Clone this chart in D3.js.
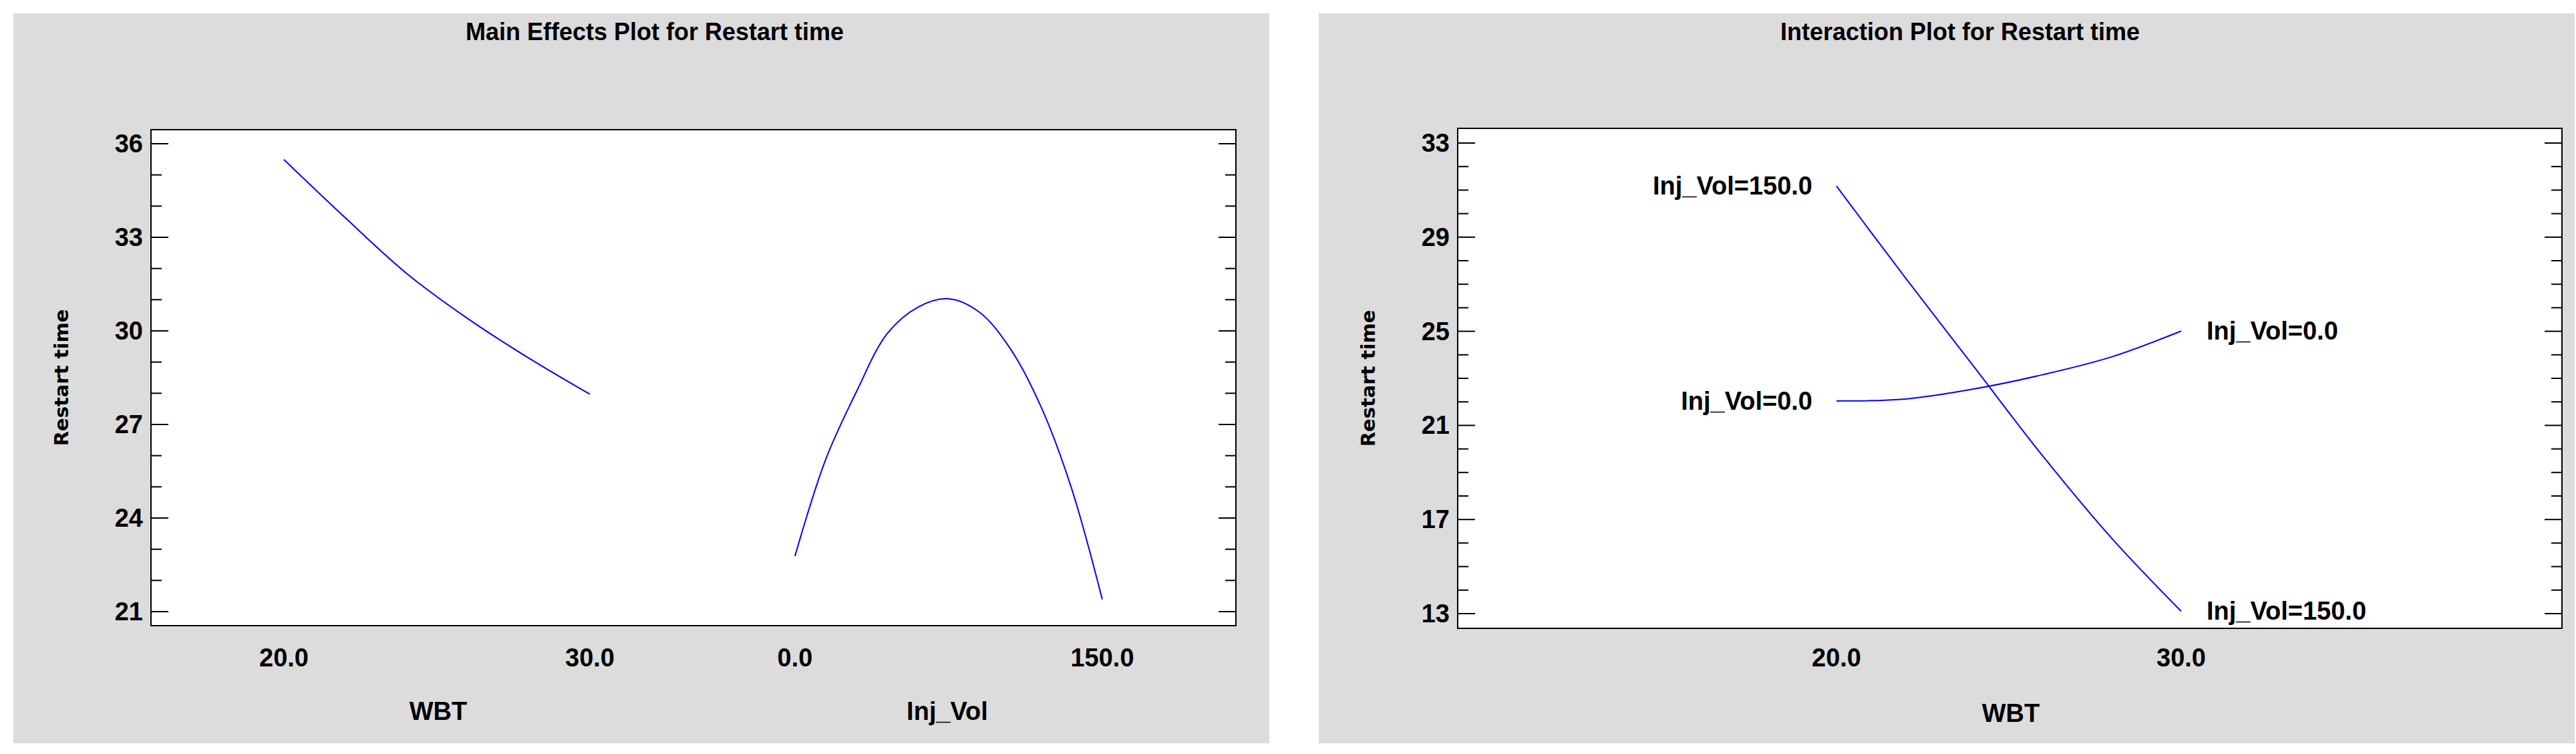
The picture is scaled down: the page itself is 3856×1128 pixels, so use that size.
<!DOCTYPE html>
<html>
<head>
<meta charset="utf-8">
<script src="https://cdn.jsdelivr.net/npm/d3@7"></script>
<style>
  body { margin: 0; background: #fff; }
  text { font-family: "Liberation Sans Narrow", "Liberation Sans", Arial, sans-serif; font-weight: bold; fill: #000; }
  .ylab { font-family: "DejaVu Sans", Verdana, sans-serif; }
</style>
</head>
<body>
<svg id="chart" width="3856" height="1128"></svg>
<script>
// main effects: WBT
const wbtLevels = [20, 22, 24, 26, 28, 30];
const wbtMain = [35.49, 33.63, 31.85, 30.4, 29.13, 27.97];
// main effects: Inj_Vol
const injLevels = [0, 15, 30, 45, 60, 75, 90, 105, 120, 135, 150];
const injMain = [22.78, 25.88, 28.05, 29.91, 30.76, 31.03, 30.6, 29.44, 27.58, 24.95, 21.39];
// interaction
const inj150 = [31.17, 27.27, 23.47, 19.67, 16.18, 13.1];
const inj0 = [22.04, 22.12, 22.55, 23.16, 23.92, 25.01];

const svg = d3.select('#chart');
const blue = '#0000ff';

function panel(x0, w, title) {
  const g = svg.append('g');
  g.append('rect').attr('x', x0).attr('y', 20).attr('width', w).attr('height', 1092).attr('fill', '#dcdcdc');
  g.append('text').attr('x', x0 + w / 2 + 20).attr('y', 60).attr('text-anchor', 'middle')
    .attr('font-size', 36).text(title);
  return g;
}

function frame(g, left, right, top, bottom, y, yMajor) {
  g.append('rect').attr('x', left).attr('y', top).attr('width', right - left).attr('height', bottom - top)
    .attr('fill', '#fff').attr('stroke', '#000').attr('stroke-width', 2);
  const [lo, hi] = y.domain();
  const minors = d3.range(Math.ceil(lo), Math.floor(hi) + 1);
  minors.forEach(v => {
    const major = (v - lo) % yMajor === 0;
    const len = major ? 26 : 16;
    const yy = y(v);
    g.append('line').attr('x1', left).attr('x2', left + len).attr('y1', yy).attr('y2', yy).attr('stroke', '#000').attr('stroke-width', 2);
    g.append('line').attr('x1', right - len).attr('x2', right).attr('y1', yy).attr('y2', yy).attr('stroke', '#000').attr('stroke-width', 2);
    if (major) {
      g.append('text').attr('x', left - 12).attr('y', yy + 13).attr('text-anchor', 'end')
        .attr('font-size', 38).text(v);
    }
  });
  g.append('text').attr('class', 'ylab')
    .attr('transform', `translate(${left - 124},${(top + bottom) / 2}) rotate(-90)`)
    .attr('text-anchor', 'middle').attr('font-size', 29).text('Restart time');
}

function curve(g, xs, ys, x, y) {
  const line = d3.line().x((d, i) => x(xs[i])).y(d => y(d)).curve(d3.curveCatmullRom);
  g.append('path').datum(ys).attr('d', line).attr('fill', 'none').attr('stroke', blue).attr('stroke-width', 2);
}

function xLabel(g, x, txt) {
  g.append('text').attr('x', x).attr('y', 997).attr('text-anchor', 'middle').attr('font-size', 38).text(txt);
}

// ---- left panel
{
  const g = panel(20, 1880, 'Main Effects Plot for Restart time');
  const left = 226, right = 1850, top = 194, bottom = 936;
  const y = d3.scaleLinear().domain([21, 36]).range([915, 215]);
  frame(g, left, right, top, bottom, y, 3);
  const xW = d3.scaleLinear().domain([20, 30]).range([425, 883]);
  const xI = d3.scaleLinear().domain([0, 150]).range([1190, 1650]);
  curve(g, wbtLevels, wbtMain, xW, y);
  curve(g, injLevels, injMain, xI, y);
  [20, 30].forEach(v => xLabel(g, xW(v), d3.format('.1f')(v)));
  [0, 150].forEach(v => xLabel(g, xI(v), d3.format('.1f')(v)));
  g.append('text').attr('x', 656).attr('y', 1077).attr('text-anchor', 'middle').attr('font-size', 38).text('WBT');
  g.append('text').attr('x', 1418).attr('y', 1077).attr('text-anchor', 'middle').attr('font-size', 38).text('Inj_Vol');
}

// ---- right panel
{
  const g = panel(1974, 1880, 'Interaction Plot for Restart time');
  const left = 2182, right = 3835, top = 192, bottom = 940;
  const y = d3.scaleLinear().domain([13, 33]).range([918, 214]);
  frame(g, left, right, top, bottom, y, 4);
  const x = d3.scaleLinear().domain([20, 30]).range([2749, 3265]);
  curve(g, wbtLevels, inj150, x, y);
  curve(g, wbtLevels, inj0, x, y);
  [20, 30].forEach(v => xLabel(g, x(v), d3.format('.1f')(v)));
  g.append('text').attr('x', 3010).attr('y', 1080).attr('text-anchor', 'middle').attr('font-size', 38).text('WBT');
  const lab = (xx, yy, anchor, t) => g.append('text').attr('x', xx).attr('y', yy + 13)
    .attr('text-anchor', anchor).attr('font-size', 38).text(t);
  lab(x(20) - 36, y(inj150[0]), 'end', 'Inj_Vol=150.0');
  lab(x(20) - 36, y(inj0[0]), 'end', 'Inj_Vol=0.0');
  lab(x(30) + 38, y(inj0[5]), 'start', 'Inj_Vol=0.0');
  lab(x(30) + 38, y(inj150[5]), 'start', 'Inj_Vol=150.0');
}
</script>
</body>
</html>
